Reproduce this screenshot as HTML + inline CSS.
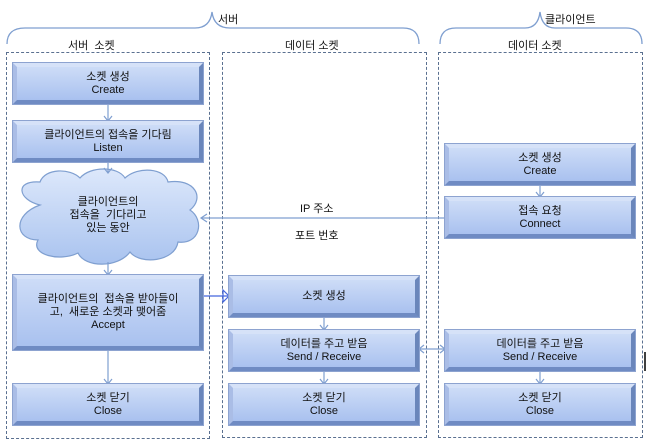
<!DOCTYPE html>
<html><head><meta charset="utf-8"><style>
html,body{margin:0;padding:0;background:#fff;}
body{width:647px;height:443px;position:relative;overflow:hidden;font-family:"Liberation Sans","Noto Sans CJK KR",sans-serif;color:#111;}
.b{position:absolute;box-sizing:border-box;border:4px solid;border-color:#d6e2f8 #6a86bb #6f8bc3 #aabde6;background:linear-gradient(#cddcf7,#a9c1ef);outline:1px solid #8da3d0;display:flex;flex-direction:column;align-items:center;justify-content:center;font-size:11px;line-height:13px;text-align:center;}
.t{position:absolute;font-size:11px;white-space:nowrap;}
.p{position:absolute;box-sizing:border-box;border:1.5px dashed #5a7090;}
</style></head><body>
<div class="p" style="left:6px;top:52px;width:204px;height:387px"></div>
<div class="p" style="left:222px;top:52px;width:205px;height:386px"></div>
<div class="p" style="left:438px;top:52px;width:205px;height:386px"></div>

<svg width="647" height="443" style="position:absolute;left:0;top:0" fill="none">
<defs>
<linearGradient id="cg" x1="0" y1="0" x2="0" y2="1"><stop offset="0" stop-color="#dde8fb"/><stop offset="1" stop-color="#a9c3ef"/></linearGradient>
</defs>
<g stroke="#7f9fd0" stroke-width="1.3">
<path d="M7,44 Q7,28 25,28 L195,28 Q210,28 212,12 Q214,28 230,28 L403,28 Q419,28 419,44"/>
<path d="M440,44 Q440,28 456,28 L525,28 Q538,28 540,12 Q542,28 555,28 L626,28 Q642,28 642,44"/>
</g>
<g fill="url(#cg)" stroke="#7f9fd0" stroke-width="1.2">
<path d="M40,205 C18,200 14,180 40,182 C45,168 70,168 80,178 C90,166 118,166 125,178 C138,166 165,168 168,182 C195,178 205,198 190,210 C205,220 200,245 178,242 C175,262 140,265 130,252 C118,268 85,268 78,253 C60,262 30,255 38,240 C15,240 12,215 40,205 Z"/>
</g>
<g stroke="#7f9fd0" stroke-width="1.2">
<line x1="108" y1="103" x2="108" y2="121"/><path d="M104,116 L108,121 L112,116"/>
<line x1="108" y1="161" x2="108" y2="173"/><path d="M104,168 L108,173 L112,168"/>
<line x1="108" y1="262" x2="108" y2="275"/><path d="M104,270 L108,275 L112,270"/>
<line x1="108" y1="350" x2="108" y2="384"/><path d="M104,379 L108,384 L112,379"/>
<line x1="324" y1="316" x2="324" y2="330"/><path d="M320,325 L324,330 L328,325"/>
<line x1="324" y1="370" x2="324" y2="384"/><path d="M320,379 L324,384 L328,379"/>
<line x1="540" y1="184" x2="540" y2="197"/><path d="M536,192 L540,197 L544,192"/>
<line x1="540" y1="370" x2="540" y2="384"/><path d="M536,379 L540,384 L544,379"/>
<line x1="201" y1="218" x2="445" y2="218"/><path d="M207,214 L201,218 L207,222"/>
<line x1="419" y1="349" x2="445" y2="349"/><path d="M424,345 L419,349 L424,353 M440,345 L445,349 L440,353"/>
</g>
<g stroke="#4466dd" stroke-width="1.2">
<line x1="203" y1="296" x2="229" y2="296"/><path d="M223,290 L229,296 L223,302 Z"/>
</g>
<line x1="645" y1="352" x2="645" y2="371" stroke="#000" stroke-width="1.5"/>
</svg>

<div class="t" style="left:218px;top:11px">서버</div>
<div class="t" style="left:545px;top:11px">클라이언트</div>
<div class="t" style="left:68px;top:37px">서버&nbsp; 소켓</div>
<div class="t" style="left:285px;top:37px">데이터 소켓</div>
<div class="t" style="left:508px;top:37px">데이터 소켓</div>
<div class="t" style="left:300px;top:200px">IP 주소</div>
<div class="t" style="left:295px;top:227px">포트 번호</div>

<div class="b" style="left:13px;top:63px;width:190px;height:41px">소켓 생성<br>Create</div>
<div class="b" style="left:13px;top:121px;width:190px;height:41px">클라이언트의 접속을 기다림<br>Listen</div>
<div class="t" style="left:0;top:196px;width:216px;text-align:center;line-height:13px">클라이언트의<br>접속을&nbsp; 기다리고<br>있는 동안</div>
<div class="b" style="left:13px;top:275px;width:190px;height:75px">클라이언트의&nbsp; 접속을 받아들이<br>고,&nbsp; 새로운 소켓과 맺어줌<br>Accept</div>
<div class="b" style="left:13px;top:384px;width:190px;height:41px">소켓 닫기<br>Close</div>

<div class="b" style="left:229px;top:276px;width:190px;height:41px">소켓 생성</div>
<div class="b" style="left:229px;top:330px;width:190px;height:41px">데이터를 주고 받음<br>Send / Receive</div>
<div class="b" style="left:229px;top:384px;width:190px;height:41px">소켓 닫기<br>Close</div>

<div class="b" style="left:445px;top:144px;width:190px;height:41px">소켓 생성<br>Create</div>
<div class="b" style="left:445px;top:197px;width:190px;height:41px">접속 요청<br>Connect</div>
<div class="b" style="left:445px;top:330px;width:190px;height:41px">데이터를 주고 받음<br>Send / Receive</div>
<div class="b" style="left:445px;top:384px;width:190px;height:41px">소켓 닫기<br>Close</div>
</body></html>
